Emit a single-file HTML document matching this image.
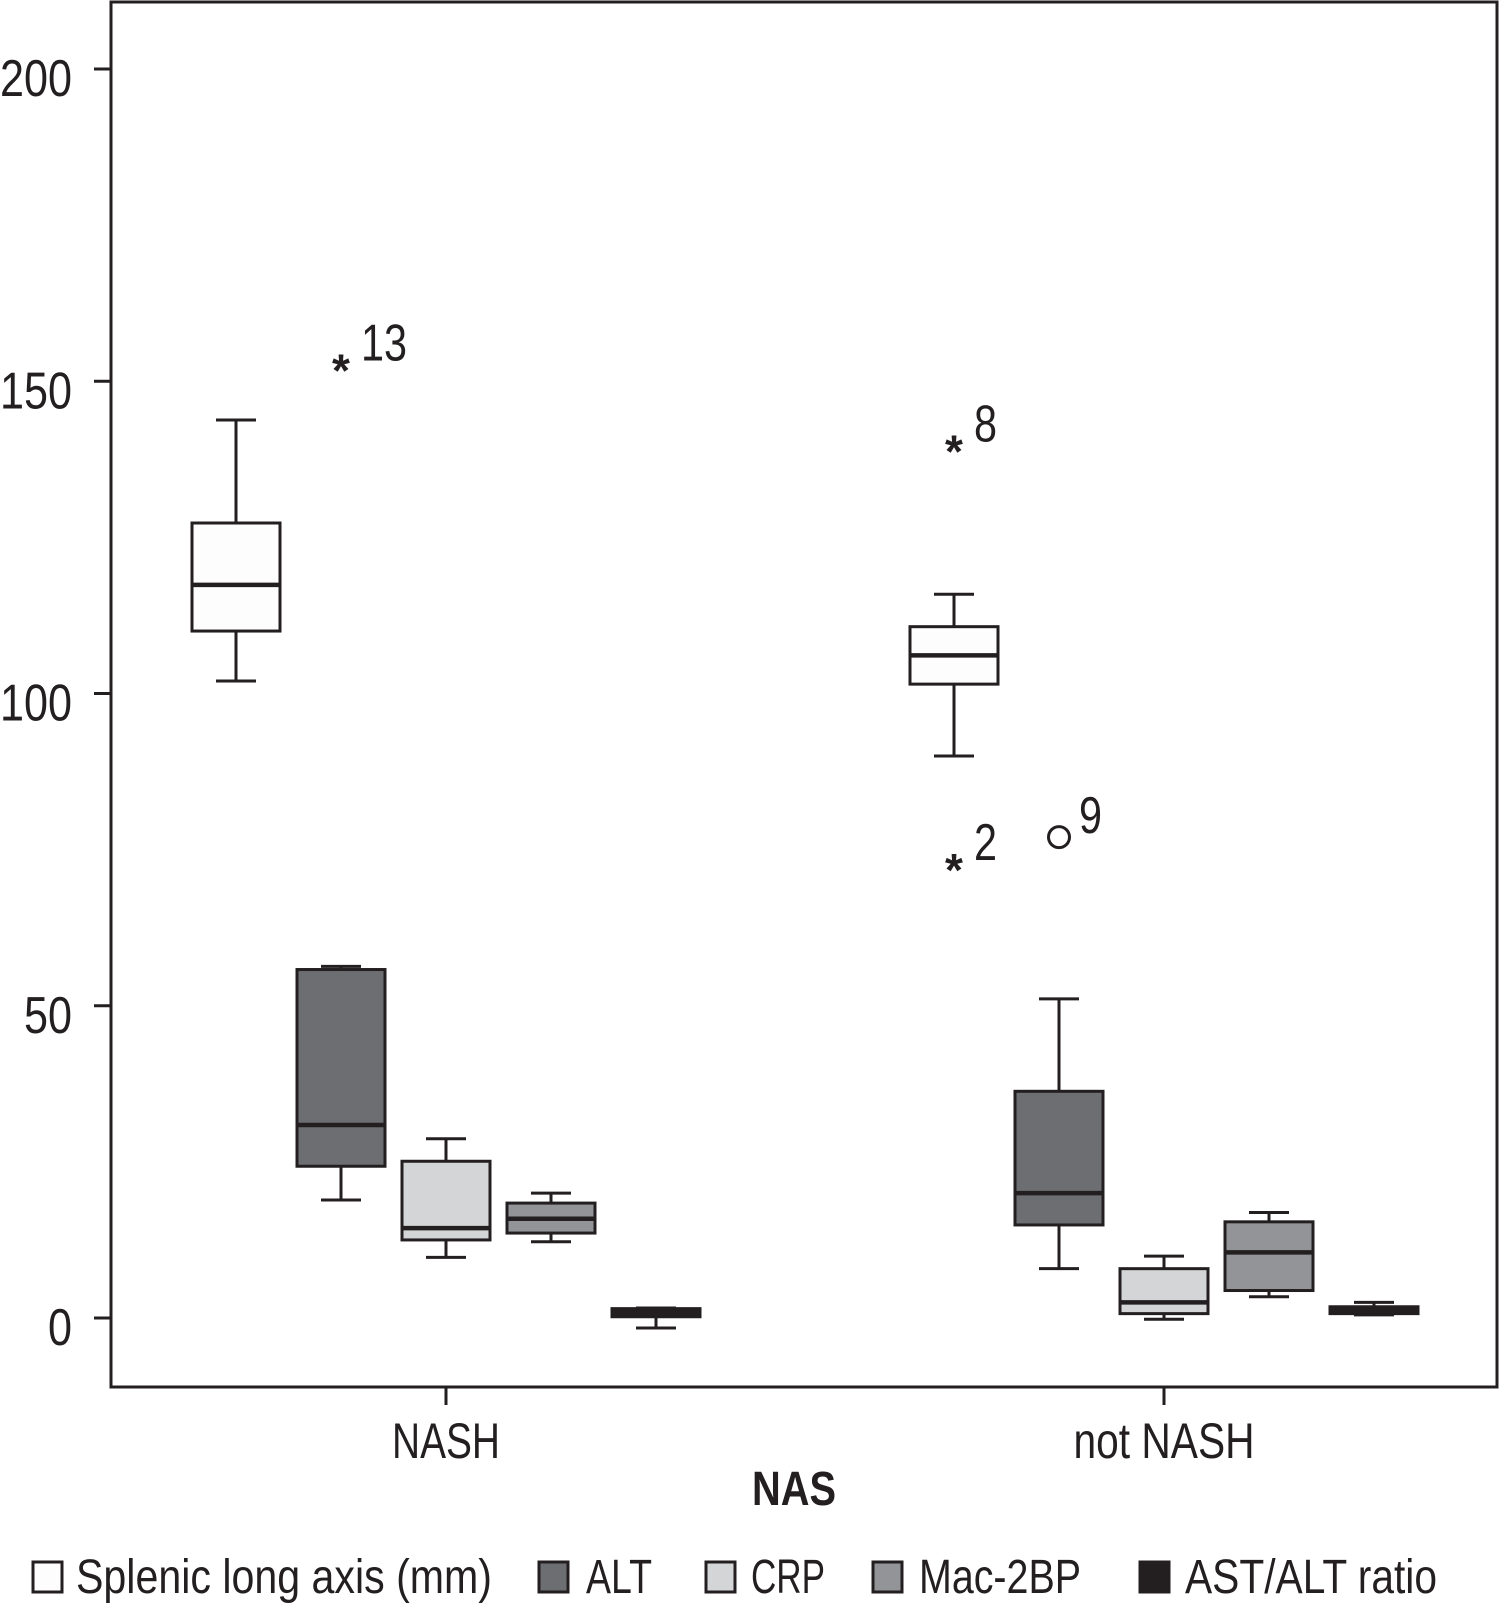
<!DOCTYPE html>
<html><head><meta charset="utf-8"><style>
html,body{margin:0;padding:0;background:#fff;}
svg{display:block;}
text{font-family:"Liberation Sans Narrow","Liberation Sans",sans-serif;fill:#231f20;}
</style></head><body>
<svg id="chart" width="1500" height="1607" viewBox="0 0 1500 1607" xmlns="http://www.w3.org/2000/svg">
<rect x="111" y="2" width="1386" height="1385" fill="none" stroke="#231f20" stroke-width="3"/>
<g id="axes"></g>
<g id="boxes"></g>
<g id="outliers"></g>
<text x="794" y="1505" font-size="48" font-weight="bold" text-anchor="middle" textLength="84" lengthAdjust="spacingAndGlyphs">NAS</text>
<g id="legend"></g>
</svg>
<script>
const groups = ["NASH", "not NASH"];
const seriesNames = ["Splenic long axis (mm)", "ALT", "CRP", "Mac-2BP", "AST/ALT ratio"];
const seriesColors = ["#fdfdfd", "#6d6e71", "#d4d5d6", "#929497", "#231f20"];
// [min, q1, median, q3, max] per group
const splenic = [[102, 110, 117.4, 127.3, 143.8], [90, 101.5, 106.1, 110.7, 115.9]];
const alt = [[18.9, 24.3, 30.9, 55.8, 56.3], [7.9, 14.9, 20, 36.3, 51.1]];
const crp = [[9.7, 12.5, 14.4, 25.1, 28.7], [-0.2, 0.7, 2.5, 7.9, 9.9]];
const mac2bp = [[12.2, 13.6, 15.9, 18.4, 20], [3.4, 4.4, 10.5, 15.4, 16.9]];
const astAlt = [[-1.6, 0.2, 0.8, 1.5, 1.6], [0.5, 0.7, 1.1, 1.8, 2.5]];
const yTicks = [0, 50, 100, 150, 200];
const outlierGroup = [0, 1, 1, 1];
const outlierValue = [152.7, 139.7, 72.7, 77];
const outlierLabel = ["13", "8", "2", "9"];
const outlierKind = ["star", "star", "star", "circle"];
const outlierSeries = [1, 0, 0, 1];

const NS = "http://www.w3.org/2000/svg";
function y(v){ return 1318 - (1318 - 69) / 200 * v; }
function gx(g){ return g === 0 ? 446 : 1164; }
function bx(g, s){ return gx(g) + (s - 2) * 105; }
function mk(tag, attrs, parent){ const e = document.createElementNS(NS, tag); for (const k in attrs) e.setAttribute(k, attrs[k]); parent.appendChild(e); return e; }

const axes = document.getElementById("axes");
yTicks.forEach(t => {
  const l = mk("line", {x1:94, x2:111, y1:y(t), y2:y(t), stroke:"#231f20", "stroke-width":3}, axes);
  
  
  const s = String(t);
  const tx = mk("text", {x:72, y:y(t)+27, "font-size":52, "text-anchor":"end", textLength:s.length*24, lengthAdjust:"spacingAndGlyphs"}, axes);
  tx.textContent = s;
  
  
});
const xLabelW = [108, 181];
groups.forEach((g, i) => {
  const l = mk("line", {x1:gx(i), x2:gx(i), y1:1387, y2:1405, stroke:"#231f20", "stroke-width":3}, axes);
  
  
  const tx = mk("text", {x:gx(i), y:1458, "font-size":50, "text-anchor":"middle", textLength:xLabelW[i], lengthAdjust:"spacingAndGlyphs"}, axes);
  tx.textContent = g;
  
  
});

const allSeries = [splenic, alt, crp, mac2bp, astAlt];
const boxes = document.getElementById("boxes");
allSeries.forEach((ser, s) => {
  ser.forEach((d, g) => {
    const c = bx(g, s), w = 88, cw = 40;
    const grp = mk("g", {}, boxes);
    
    
    const st = {stroke:"#231f20", "stroke-width":3};
    mk("line", Object.assign({x1:c, x2:c, y1:y(d[4]), y2:y(d[3])}, st), grp);
    mk("line", Object.assign({x1:c, x2:c, y1:y(d[1]), y2:y(d[0])}, st), grp);
    mk("line", Object.assign({x1:c-cw/2, x2:c+cw/2, y1:y(d[4]), y2:y(d[4])}, st), grp);
    mk("line", Object.assign({x1:c-cw/2, x2:c+cw/2, y1:y(d[0]), y2:y(d[0])}, st), grp);
    mk("rect", Object.assign({x:c-w/2, y:y(d[3]), width:w, height:Math.max(1, y(d[1]) - y(d[3])), fill:seriesColors[s]}, st), grp);
    mk("line", {x1:c-w/2, x2:c+w/2, y1:y(d[2]), y2:y(d[2]), stroke:"#231f20", "stroke-width":4.5}, grp);
  });
});

const outs = document.getElementById("outliers");
outlierValue.forEach((v, i) => {
  const cx = bx(outlierGroup[i], outlierSeries[i]), cy = y(v);
  if (outlierKind[i] === "star") {
    const t = mk("text", {x:cx, y:cy+22, "font-size":46, "font-weight":"bold", "text-anchor":"middle", "font-family":"Liberation Sans, sans-serif"}, outs);
    t.textContent = "*";
    
    
  } else {
    const c = mk("circle", {cx:cx, cy:cy, r:10.5, fill:"none", stroke:"#231f20", "stroke-width":3}, outs);
    
    
  }
  const lb = mk("text", {x:cx+20, y:cy-4, "font-size":52, textLength:outlierLabel[i].length*23, lengthAdjust:"spacingAndGlyphs"}, outs);
  lb.textContent = outlierLabel[i];
  
  
});

const legend = document.getElementById("legend");
const legSq = [33, 539, 706, 873, 1140];
const legTx = [76, 586, 751, 919, 1185];
const legW = [416, 66, 74, 162, 252];
seriesNames.forEach((n, i) => {
  const r = mk("rect", {x:legSq[i], y:1562, width:29, height:30, fill:seriesColors[i], stroke:"#231f20", "stroke-width":3}, legend);
  
  
  const t = mk("text", {x:legTx[i], y:1593, "font-size":48, textLength:legW[i], lengthAdjust:"spacingAndGlyphs"}, legend);
  t.textContent = n;
  
  
});
</script>
</body></html>
